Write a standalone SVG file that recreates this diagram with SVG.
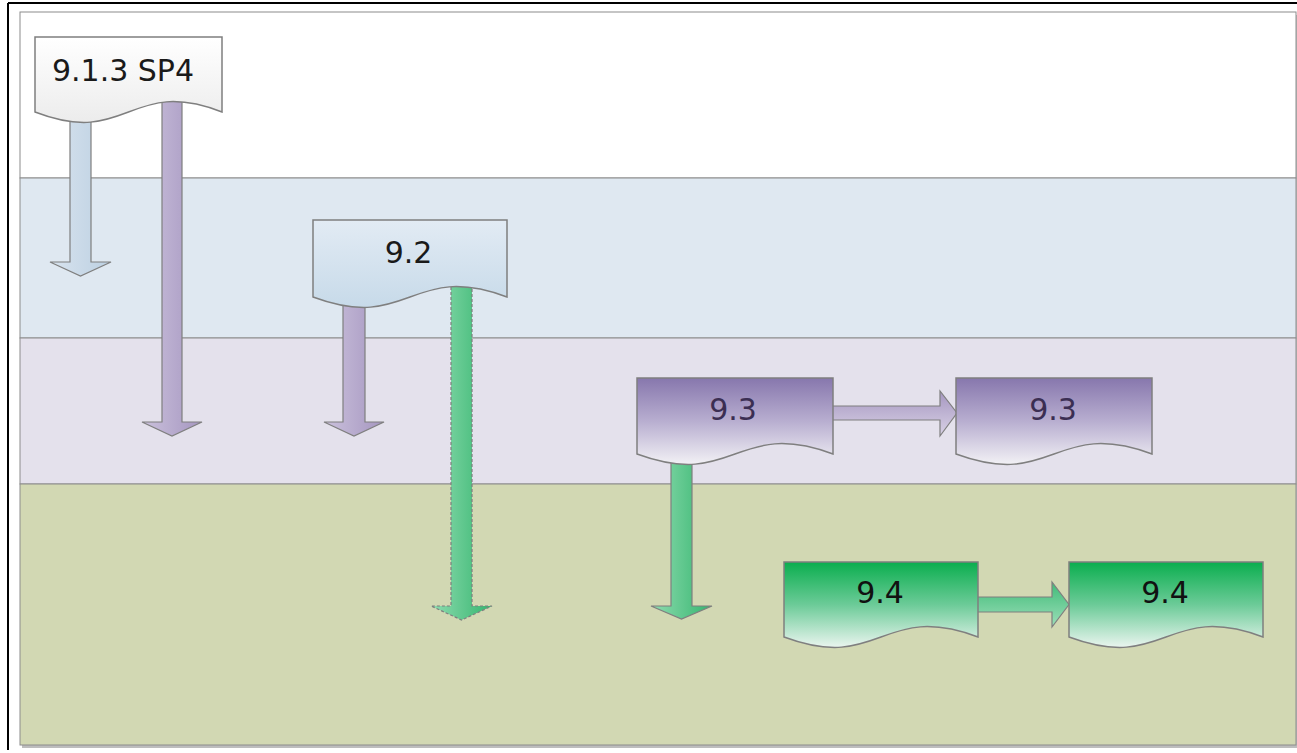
<svg xmlns="http://www.w3.org/2000/svg" width="1297" height="753" viewBox="0 0 1297 753">
<style>
.doc{stroke:#7f7f7f;stroke-width:1.5}
.arr{stroke:#7f7f7f;stroke-width:1.2}
.lbl{font-family:"DejaVu Sans",sans-serif;font-size:30px;text-anchor:middle}
.band{stroke:#8c8c8c;stroke-width:1}
</style>
<defs>
<linearGradient id="gWhite" x1="0" y1="0" x2="0" y2="1"><stop offset="0" stop-color="#ffffff"/><stop offset="1" stop-color="#ececec"/></linearGradient>
<linearGradient id="gBlue" x1="0" y1="0" x2="0" y2="1"><stop offset="0" stop-color="#e2ebf4"/><stop offset="1" stop-color="#c7dae9"/></linearGradient>
<linearGradient id="gPurp" x1="0" y1="0" x2="0" y2="1"><stop offset="0" stop-color="#8777ad"/><stop offset="0.5" stop-color="#b8aed0"/><stop offset="1" stop-color="#f2f1f5"/></linearGradient>
<linearGradient id="gGreen" x1="0" y1="0" x2="0" y2="1"><stop offset="0" stop-color="#0aae4e"/><stop offset="0.5" stop-color="#6ccb98"/><stop offset="1" stop-color="#eaf5ef"/></linearGradient>
<linearGradient id="aBlue" x1="0" y1="0" x2="1" y2="0"><stop offset="0" stop-color="#d8e3ee"/><stop offset="1" stop-color="#bcd0e2"/></linearGradient>
<linearGradient id="aPurp" x1="0" y1="0" x2="1" y2="0"><stop offset="0" stop-color="#cbc1dc"/><stop offset="1" stop-color="#a596c0"/></linearGradient>
<linearGradient id="aGreen" x1="0" y1="0" x2="1" y2="0"><stop offset="0" stop-color="#8fdcb0"/><stop offset="1" stop-color="#35b56f"/></linearGradient>
<linearGradient id="aPurpH" x1="0" y1="0" x2="0" y2="1"><stop offset="0" stop-color="#a596c0"/><stop offset="1" stop-color="#d9d2e6"/></linearGradient>
<linearGradient id="aGreenH" x1="0" y1="0" x2="0" y2="1"><stop offset="0" stop-color="#3fbb78"/><stop offset="1" stop-color="#9ddfb9"/></linearGradient>
</defs>

<g id="frame">
<line x1="8" y1="3" x2="1297" y2="3" stroke="#000" stroke-width="2"/>
<line x1="8" y1="3" x2="8" y2="750" stroke="#000" stroke-width="2"/>
<rect x="22" y="15" width="1275" height="733" fill="#bdbdbd"/>
</g>
<g id="bands">
<rect class="band" x="20" y="12" width="1276" height="166" fill="#ffffff"/>
<rect class="band" x="20" y="178" width="1276" height="160" fill="#dfe8f1"/>
<rect class="band" x="20" y="338" width="1276" height="146" fill="#e4e1ec"/>
<rect class="band" x="20" y="484" width="1276" height="261" fill="#d2d8b3"/>
</g>

<g id="connectors">
<path class="arr" fill="url(#aBlue)" d="M70,100 L91,100 L91,262 L111,262 L80.5,276 L50,262 L70,262 Z"/>
<path class="arr" fill="url(#aPurp)" d="M162,90 L182,90 L182,422 L202,422 L172,436 L142,422 L162,422 Z"/>
<path class="arr" fill="url(#aPurp)" d="M343,280 L365,280 L365,422 L384,422 L354,436 L324,422 L343,422 Z"/>
<path class="arr" fill="url(#aGreen)" stroke-dasharray="3,2" d="M451,275 L472,275 L472,606 L492,606 L461.5,620 L431,606 L451,606 Z"/>
<path class="arr" fill="url(#aGreen)" d="M671,440 L692,440 L692,606 L712,606 L681.5,619 L651,606 L671,606 Z"/>
<path class="arr" fill="url(#aPurpH)" d="M828,406 L940,406 L940,391 L957,413 L940,436 L940,420 L828,420 Z"/>
<path class="arr" fill="url(#aGreenH)" d="M975,597 L1052,597 L1052,582 L1069,604.5 L1052,627 L1052,612 L975,612 Z"/>
</g>

<g id="n-sp4">
<path class="doc" fill="url(#gWhite)" d="M35,37 L222,37 L222,112 C128.5,76 128.5,148 35,112 Z"/>
<text class="lbl" x="123" y="81" fill="#1a1a1a">9.1.3 SP4</text>
</g>
<g id="n-92">
<path class="doc" fill="url(#gBlue)" d="M313,220 L507,220 L507,297 C410,261 410,333 313,297 Z"/>
<text class="lbl" x="408.5" y="263" fill="#1a1a1a">9.2</text>
</g>
<g id="n-93a">
<path class="doc" fill="url(#gPurp)" d="M637,378 L833,378 L833,454 C735,418 735,490 637,454 Z"/>
<text class="lbl" x="733" y="420" fill="#3b2e52">9.3</text>
</g>
<g id="n-93b">
<path class="doc" fill="url(#gPurp)" d="M956,378 L1152,378 L1152,454 C1054,418 1054,490 956,454 Z"/>
<text class="lbl" x="1053" y="420" fill="#3b2e52">9.3</text>
</g>
<g id="n-94a">
<path class="doc" fill="url(#gGreen)" d="M784,562 L978,562 L978,637 C881,601 881,673 784,637 Z"/>
<text class="lbl" x="880" y="603" fill="#111">9.4</text>
</g>
<g id="n-94b">
<path class="doc" fill="url(#gGreen)" d="M1069,562 L1263,562 L1263,637 C1166,601 1166,673 1069,637 Z"/>
<text class="lbl" x="1165" y="603" fill="#111">9.4</text>
</g>
</svg>
